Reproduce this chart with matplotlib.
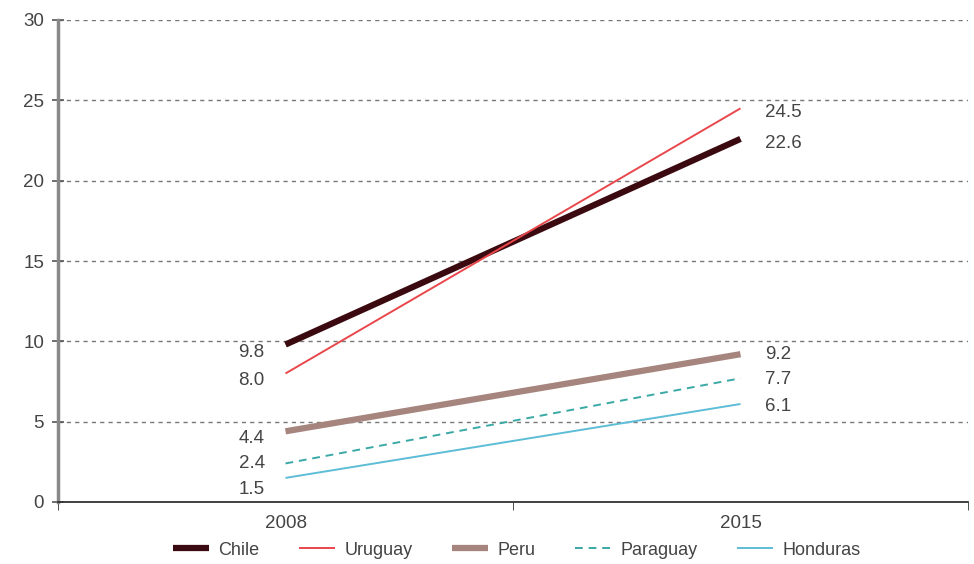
import numpy as np
import matplotlib.pyplot as plt

plt.rcParams['font.family'] = ['Liberation Sans', 'DejaVu Sans']

years = ["2008", "2015"]
countries = ["Chile", "Uruguay", "Peru", "Paraguay", "Honduras"]
chile = [9.8, 22.6]
uruguay = [8.0, 24.5]
peru = [4.4, 9.2]
paraguay = [2.4, 7.7]
honduras = [1.5, 6.1]

series = [chile, uruguay, peru, paraguay, honduras]
colors = ["#3b0a10", "#e8474c", "#a5857d", "#3aa9a6", "#5dbdd6"]
widths = [4.5, 1.4, 4.5, 1.4, 1.4]
styles = ["-", "-", "-", (0, (4, 3)), "-"]
# pixel offsets for the value labels (left, right) so they don't overlap
left_off = [-6, -5, -5, 0, -8]
right_off = [-3, -3, 0, -1, -2]

fig = plt.figure(figsize=(9.74, 5.64), dpi=100)
ax = fig.add_axes([58/974, 62/564, 910/974, 482/564])

x = np.arange(len(years))
for s, name, c, w, ls, lo, ro in zip(series, countries, colors, widths, styles, left_off, right_off):
    ax.plot(x, s, color=c, lw=w, ls=ls, label=name, solid_capstyle='butt')
    ax.annotate(f"{s[0]:.1f}", (x[0], s[0]), xytext=(-15, lo), textcoords='offset points',
                ha='right', va='center', fontsize=13.5, color='#444444')
    ax.annotate(f"{s[1]:.1f}", (x[1], s[1]), xytext=(18, ro), textcoords='offset points',
                ha='left', va='center', fontsize=13.5, color='#444444')

ax.set_xlim(-0.5, 1.5)
ax.set_ylim(0, 30)
ax.set_yticks(np.arange(0, 31, 5))
ax.set_xticks(x)
ax.set_xticklabels(years)
ax.set_xticks([-0.5, 0.5, 1.5], minor=True)
ax.tick_params(axis='x', which='major', length=0, labelsize=13.5, labelcolor='#444444', pad=9)
ax.tick_params(axis='x', which='minor', length=6, color='#333333', direction='out')
ax.tick_params(axis='y', length=8, width=1.2, color='#555555', direction='inout',
               labelsize=13.5, labelcolor='#444444', pad=6)

ax.yaxis.grid(True, ls=(0, (3, 3)), color='#777777', lw=1)
ax.set_axisbelow(True)
for sp in ['top', 'right']:
    ax.spines[sp].set_visible(False)
ax.spines['left'].set_color('#888888')
ax.spines['left'].set_linewidth(2.5)
ax.spines['bottom'].set_color('#333333')
ax.spines['bottom'].set_linewidth(1.3)

ax.legend(loc='center', bbox_to_anchor=(0.504, -0.1), ncol=5, frameon=False,
          fontsize=13, handlelength=2.0, columnspacing=2.2, handletextpad=0.5,
          labelcolor='#444444', borderpad=0)

fig.savefig("out.png", dpi=100)
